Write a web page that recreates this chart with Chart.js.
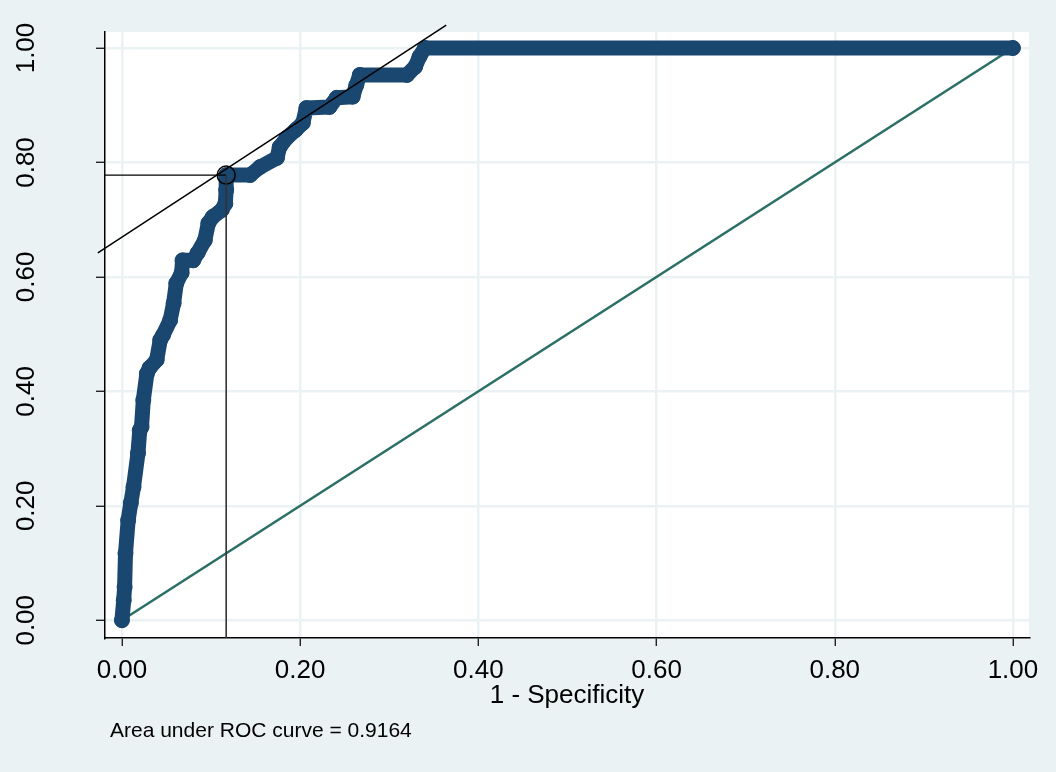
<!DOCTYPE html>
<html lang="en">
<head>
  <meta charset="UTF-8">
  <title>ROC curve</title>
  <script src="https://cdn.jsdelivr.net/npm/chart.js"></script>
  <style>
    body { margin: 0; background: #eaf2f3; }
    canvas { display: block; }
  </style>
</head>
<body>
  <canvas id="roc" width="1056" height="772"></canvas>
  <script>
    // ROC points (1 - specificity, sensitivity)
    const rocX = [0, 0.002, 0.003, 0.004, 0.007, 0.010, 0.013, 0.018, 0.020, 0.022, 0.024, 0.028, 0.031, 0.039,
      0.043, 0.046, 0.054, 0.058, 0.061, 0.067, 0.068, 0.080, 0.085, 0.093, 0.097, 0.102, 0.112, 0.116,
      0.117, 0.117, 0.144, 0.155, 0.174, 0.177, 0.185, 0.195, 0.203, 0.207, 0.233, 0.241, 0.259, 0.263,
      0.267, 0.320, 0.329, 0.334, 0.340, 1];
    const rocY = [0, 0.035, 0.058, 0.117, 0.175, 0.205, 0.233, 0.292, 0.332, 0.338, 0.385, 0.431, 0.441, 0.455,
      0.490, 0.498, 0.524, 0.554, 0.589, 0.607, 0.629, 0.629, 0.642, 0.664, 0.694, 0.705, 0.717, 0.728,
      0.752, 0.778, 0.778, 0.792, 0.808, 0.827, 0.843, 0.857, 0.869, 0.895, 0.897, 0.913, 0.915, 0.935,
      0.953, 0.953, 0.967, 0.985, 1, 1];

    const diagX = [0, 1];
    const diagY = [0, 1];

    // cut point and tangent line
    const cutX = 0.117;
    const cutY = 0.778;
    const tangentX = [-0.027, 0.364];
    const tangentY = [0.642, 1.040];

    const tickVals = [0, 0.2, 0.4, 0.6, 0.8, 1];
    const xMin = -0.019, xMax = 1.018;
    const yMin = -0.031, yMax = 1.028;

    const xTitle = '1 - Specificity';
    const note = 'Area under ROC curve = 0.9164';

    const pts = (xs, ys) => xs.map((x, i) => ({ x: x, y: ys[i] }));

    const navy = '#1a476f';
    const font = 'Liberation Sans, Arial, sans-serif';

    const bgPlugin = {
      id: 'plotbg',
      beforeDraw(chart) {
        const { ctx, chartArea: a } = chart;
        ctx.save();
        ctx.fillStyle = '#ffffff';
        ctx.fillRect(a.left, a.top, a.right - a.left, a.bottom - a.top);
        ctx.restore();
      }
    };

    const textPlugin = {
      id: 'texts',
      afterDraw(chart) {
        const { ctx, chartArea: a } = chart;
        const ys = chart.scales.y;
        ctx.save();
        ctx.fillStyle = '#000';
        ctx.font = '26px ' + font;
        ctx.textAlign = 'center';
        ctx.textBaseline = 'alphabetic';
        tickVals.forEach(v => {
          const py = ys.getPixelForValue(v);
          ctx.save();
          ctx.translate(34, py);
          ctx.rotate(-Math.PI / 2);
          ctx.fillText(v.toFixed(2), 0, 0);
          ctx.restore();
        });
        ctx.fillText(xTitle, (a.left + a.right) / 2, 703);
        ctx.font = '21px ' + font;
        ctx.textAlign = 'left';
        ctx.fillText(note, 110, 737);
        ctx.restore();
      }
    };

    new Chart(document.getElementById('roc'), {
      type: 'scatter',
      data: {
        datasets: [
          {
            data: pts(tangentX, tangentY),
            showLine: true,
            borderColor: '#000',
            borderWidth: 1.5,
            pointRadius: 0,
            clip: false
          },
          {
            data: [{ x: cutX, y: yMin }, { x: cutX, y: cutY }],
            showLine: true,
            borderColor: '#333',
            borderWidth: 1.6,
            pointRadius: 0
          },
          {
            data: [{ x: xMin, y: cutY }, { x: cutX, y: cutY }],
            showLine: true,
            borderColor: '#000',
            borderWidth: 1.3,
            pointRadius: 0
          },
          {
            data: [{ x: cutX, y: cutY }],
            pointRadius: 9,
            pointBackgroundColor: 'rgba(0,0,0,0)',
            pointBorderColor: '#000',
            pointBorderWidth: 1.5
          },
          {
            data: pts(rocX, rocY),
            showLine: true,
            borderColor: navy,
            borderWidth: 15,
            borderCapStyle: 'round',
            borderJoinStyle: 'round',
            pointRadius: 7.5,
            pointBackgroundColor: navy,
            pointBorderColor: navy,
            pointBorderWidth: 1,
            clip: false
          },
          {
            data: pts(diagX, diagY),
            showLine: true,
            borderColor: '#2b6f66',
            borderWidth: 2.6,
            pointRadius: 0
          }
        ]
      },
      options: {
        responsive: false,
        animation: false,
        events: [],
        layout: { padding: { left: 0, top: 32, right: 27, bottom: 0 } },
        plugins: {
          legend: { display: false },
          tooltip: { enabled: false }
        },
        scales: {
          x: {
            type: 'linear',
            min: xMin,
            max: xMax,
            afterBuildTicks: s => { s.ticks = tickVals.map(v => ({ value: v })); },
            afterFit: s => { s.height = 134; },
            grid: { color: '#eaf2f3', lineWidth: 2.5, tickColor: '#000', tickLength: 8, tickWidth: 1.2 },
            border: { display: true, color: '#000', width: 1.5 },
            ticks: {
              padding: 9,
              maxRotation: 0,
              color: '#000',
              font: { family: font, size: 26 },
              callback: v => v.toFixed(2)
            }
          },
          y: {
            type: 'linear',
            min: yMin,
            max: yMax,
            afterBuildTicks: s => { s.ticks = tickVals.map(v => ({ value: v })); },
            afterFit: s => { s.width = 105; },
            grid: { color: '#eaf2f3', lineWidth: 2.5, tickColor: '#000', tickLength: 9, tickWidth: 1.2 },
            border: { display: true, color: '#000', width: 1.5 },
            ticks: { display: false }
          }
        }
      },
      plugins: [bgPlugin, textPlugin]
    });
  </script>
</body>
</html>
